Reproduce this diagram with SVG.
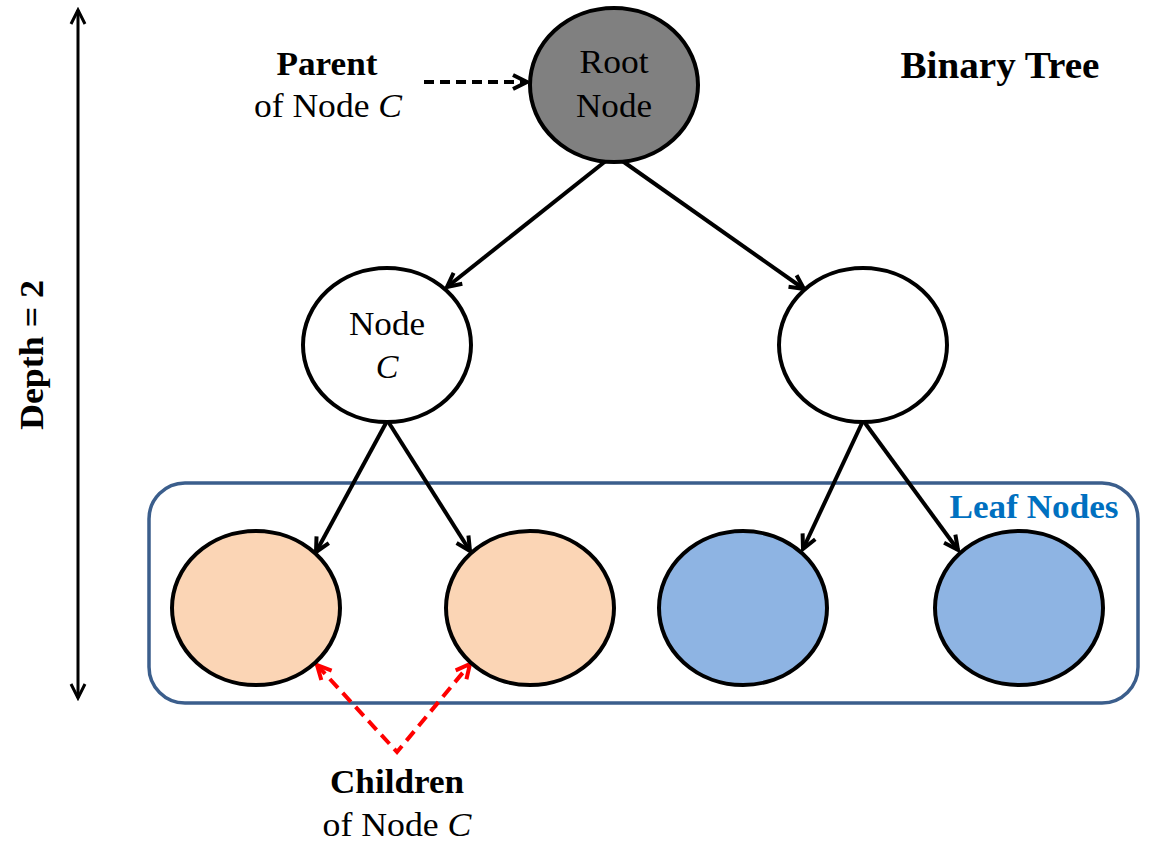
<svg xmlns="http://www.w3.org/2000/svg" width="1150" height="851" viewBox="0 0 1150 851">
<style>
.t{font-family:"Liberation Serif","Times New Roman",Times,"DejaVu Serif",serif;font-size:34px;fill:#000;text-anchor:middle}
.b{font-weight:bold}
.i{font-style:italic}
.node{stroke:#000;stroke-width:4}
.edge{stroke:#000;stroke-width:4;fill:none;marker-end:url(#ah)}
</style>
<defs>
<marker id="ah" markerUnits="userSpaceOnUse" viewBox="0 0 20 20" refX="17" refY="10" markerWidth="20" markerHeight="20" orient="auto">
<path d="M3,3 L17,10 L3,17" fill="none" stroke="#000" stroke-width="4"/>
</marker>
<marker id="ahs" markerUnits="userSpaceOnUse" viewBox="0 0 20 20" refX="17" refY="10" markerWidth="20" markerHeight="20" orient="auto-start-reverse">
<path d="M3,3 L17,10 L3,17" fill="none" stroke="#000" stroke-width="3"/>
</marker>
<marker id="ahr" markerUnits="userSpaceOnUse" viewBox="0 0 20 20" refX="17" refY="10" markerWidth="20" markerHeight="20" orient="auto-start-reverse">
<path d="M3,3 L17,10 L3,17" fill="none" stroke="#FF0000" stroke-width="4"/>
</marker>
</defs>
<rect width="1150" height="851" fill="#fff"/>
<g id="leaf-box">
<rect x="149" y="483" width="989" height="220" rx="36" fill="none" stroke="#3B5E8C" stroke-width="3.5"/>
<text class="t b" x="1034" y="518" style="fill:#0070C0" textLength="169" lengthAdjust="spacingAndGlyphs">Leaf Nodes</text>
</g>
<g id="connectors">
<line class="edge" x1="607" y1="160" x2="447" y2="287"/>
<line class="edge" x1="621" y1="160" x2="804" y2="289"/>
<line class="edge" x1="386" y1="423" x2="316" y2="552"/>
<line class="edge" x1="389" y1="423" x2="470" y2="551"/>
<line class="edge" x1="862" y1="423" x2="803" y2="549"/>
<line class="edge" x1="865" y1="423" x2="958" y2="550"/>
<line x1="424" y1="82" x2="527" y2="82" stroke="#000" stroke-width="4" stroke-dasharray="10,6" marker-end="url(#ah)"/>
<path d="M317,665 L397,752 L470,664" fill="none" stroke="#FF0000" stroke-width="4" stroke-dasharray="12,7" marker-start="url(#ahr)" marker-end="url(#ahr)"/>
<line x1="78" y1="10" x2="78" y2="698" stroke="#000" stroke-width="3" marker-start="url(#ahs)" marker-end="url(#ahs)"/>
</g>
<g id="root">
<ellipse class="node" cx="614" cy="85" rx="84" ry="77" fill="#808080"/>
<text class="t" x="614" y="73" textLength="69" lengthAdjust="spacingAndGlyphs">Root</text>
<text class="t" x="614" y="117" textLength="76" lengthAdjust="spacingAndGlyphs">Node</text>
</g>
<g id="node-c">
<ellipse class="node" cx="387" cy="345" rx="84" ry="77" fill="#fff"/>
<text class="t" x="387" y="335" textLength="76" lengthAdjust="spacingAndGlyphs">Node</text>
<text class="t i" x="387" y="378">C</text>
</g>
<g id="node-right">
<ellipse class="node" cx="863" cy="345" rx="84" ry="77" fill="#fff"/>
</g>
<g id="leaf-1">
<ellipse class="node" cx="256" cy="608" rx="84" ry="77" fill="#FBD5B5"/>
</g>
<g id="leaf-2">
<ellipse class="node" cx="530" cy="608" rx="84" ry="77" fill="#FBD5B5"/>
</g>
<g id="leaf-3">
<ellipse class="node" cx="743" cy="608" rx="84" ry="77" fill="#8EB4E3"/>
</g>
<g id="leaf-4">
<ellipse class="node" cx="1019" cy="608" rx="84" ry="77" fill="#8EB4E3"/>
</g>
<g id="labels">
<text class="t b" x="327" y="75" textLength="101" lengthAdjust="spacingAndGlyphs">Parent</text>
<text class="t" x="328" y="117" textLength="148" lengthAdjust="spacingAndGlyphs">of Node <tspan class="i">C</tspan></text>
<text class="t b" x="1000" y="78" style="font-size:38px" textLength="199" lengthAdjust="spacingAndGlyphs">Binary Tree</text>
<text class="t b" x="397" y="793" textLength="134" lengthAdjust="spacingAndGlyphs">Children</text>
<text class="t" x="397" y="836" textLength="149" lengthAdjust="spacingAndGlyphs">of Node <tspan class="i">C</tspan></text>
<text class="t b" transform="translate(43,355) rotate(-90)" x="0" y="0" textLength="150" lengthAdjust="spacingAndGlyphs">Depth = 2</text>
</g>
</svg>
